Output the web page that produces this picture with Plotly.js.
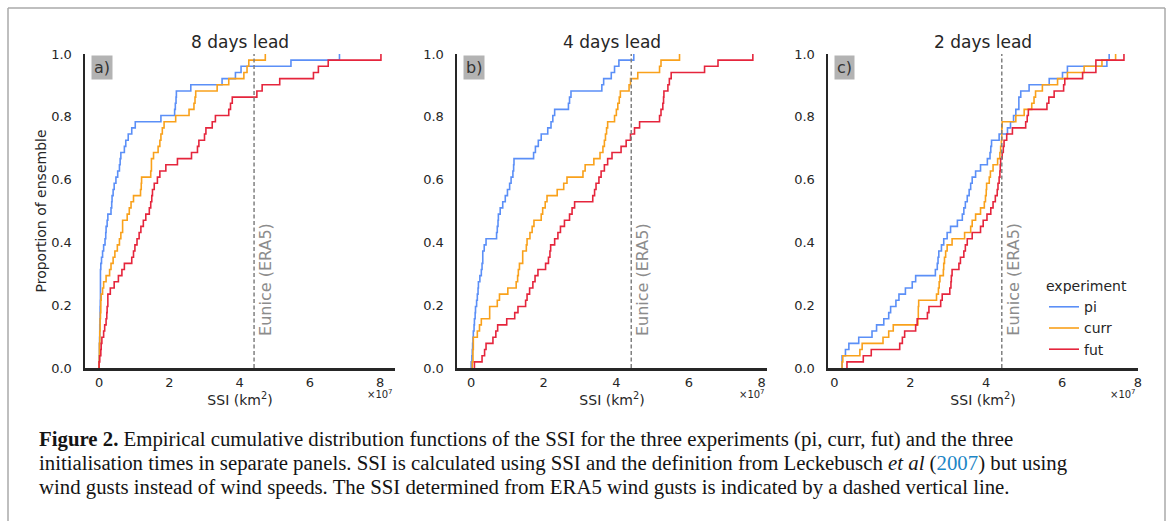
<!DOCTYPE html>
<html>
<head>
<meta charset="utf-8">
<script src="https://cdn.plot.ly/plotly-3.0.1.min.js"></script>
<style>html,body{margin:0;padding:0;background:#fff;}#chart{width:1168px;height:521px;}</style>
</head>
<body>
<div id="chart"></div>
<script>
// SSI values of each ensemble member, in units of 1e7 km^2
const experiments = ['pi', 'curr', 'fut'];
const panelTitles = ['8 days lead', '4 days lead', '2 days lead'];
const panelLabels = ['a)', 'b)', 'c)'];
const xTickVals = [0, 2, 4, 6, 8];
const xTickLabels = ['0', '2', '4', '6', '8'];
const euniceSSI = 4.41;

const ssiPi8 = [0.00,0.005,0.01,0.01,0.015,0.02,0.02,0.025,0.03,0.03,0.035,0.04,0.04,0.04,0.04,0.04,
  0.05,0.07,0.10,0.13,0.17,0.19,0.20,0.23,0.25,0.34,0.36,0.37,0.40,0.43,0.48,0.53,0.58,0.60,0.62,
  0.72,0.76,0.83,0.93,1.03,1.76,2.15,2.17,2.19,2.20,2.61,3.50,3.88,4.04,5.46,6.84];
const ssiCurr8 = [0.00,0.005,0.01,0.01,0.02,0.02,0.03,0.03,0.04,0.05,0.05,0.06,0.10,0.13,0.20,0.30,0.34,
  0.40,0.45,0.52,0.58,0.62,0.67,0.67,0.80,0.86,0.91,0.98,1.18,1.20,1.21,1.47,1.49,1.49,1.55,1.68,
  1.73,1.76,1.80,1.85,2.18,2.56,2.70,2.73,2.75,3.36,3.69,4.12,4.21,4.26,4.73];
const ssiFut8 = [0.00,0.02,0.05,0.06,0.08,0.13,0.16,0.20,0.22,0.23,0.25,0.25,0.32,0.43,0.55,0.65,0.72,
  0.93,0.98,1.02,1.08,1.14,1.19,1.26,1.33,1.43,1.47,1.50,1.52,1.57,1.66,1.73,1.90,2.23,2.63,2.80,
  2.84,3.00,3.04,3.22,3.31,3.69,3.74,3.79,4.49,4.64,5.14,6.10,6.24,6.52,8.02];

const ssiPi4 = [0.00,0.02,0.03,0.04,0.05,0.06,0.08,0.09,0.11,0.12,0.15,0.17,0.19,0.20,0.24,0.28,0.30,
  0.32,0.32,0.36,0.41,0.70,0.72,0.74,0.75,0.80,0.87,0.94,1.00,1.06,1.10,1.15,1.17,1.18,1.72,1.77,
  1.85,1.93,2.11,2.20,2.25,2.30,2.68,2.71,2.75,3.60,3.65,3.86,3.95,4.07,4.48];
const ssiCurr4 = [0.03,0.05,0.05,0.06,0.06,0.17,0.23,0.28,0.51,0.51,0.72,0.78,1.01,1.24,1.28,1.30,1.33,
  1.42,1.42,1.52,1.54,1.62,1.68,1.73,1.93,1.97,2.04,2.09,2.37,2.55,2.64,3.08,3.14,3.38,3.55,3.63,
  3.67,3.70,3.73,3.76,3.95,4.00,4.04,4.08,4.11,4.35,4.39,4.59,5.19,5.23,5.74];
const ssiFut4 = [0.09,0.30,0.37,0.41,0.60,0.68,0.73,0.98,1.20,1.29,1.50,1.54,1.61,1.70,1.76,1.84,2.05,
  2.13,2.17,2.19,2.30,2.39,2.46,2.57,2.71,2.78,2.85,3.35,3.40,3.44,3.52,3.58,3.67,3.76,3.88,4.13,
  4.27,4.39,4.50,4.64,5.19,5.23,5.28,5.30,5.31,5.42,5.46,5.51,6.43,6.80,7.76];

const ssiPi2 = [0.20,0.20,0.29,0.38,0.64,0.99,1.11,1.30,1.43,1.48,1.62,1.70,1.87,2.05,2.14,2.66,2.71,
  2.73,2.75,2.82,2.88,2.97,3.06,3.24,3.37,3.41,3.45,3.50,3.55,3.59,3.63,3.72,3.85,4.03,4.10,4.12,
  4.14,4.34,4.56,4.64,4.72,4.78,4.86,4.86,4.91,5.13,5.66,6.01,6.14,7.18,7.24];
const ssiCurr2 = [0.20,0.22,0.67,0.73,1.28,1.43,1.55,2.20,2.21,2.21,2.22,2.69,2.74,2.76,2.78,2.87,2.88,
  2.90,2.93,2.97,3.10,3.43,3.59,3.63,3.72,3.85,3.95,3.98,4.00,4.01,4.08,4.11,4.18,4.30,4.36,4.38,
  4.40,4.41,4.41,4.42,4.78,5.00,5.20,5.26,5.30,5.48,5.88,6.14,6.58,7.05,7.41];
const ssiFut2 = [0.33,0.76,0.97,1.72,1.79,1.85,2.14,2.18,2.45,2.49,2.80,2.84,3.04,3.07,3.08,3.10,3.28,
  3.32,3.41,3.45,3.50,3.63,3.85,3.92,4.02,4.12,4.18,4.24,4.29,4.31,4.34,4.36,4.37,4.38,4.42,4.45,
  4.47,4.54,4.69,5.04,5.08,5.11,5.60,5.65,5.79,6.04,6.07,6.54,6.89,6.89,7.63];

const panels = [
  [ssiPi8, ssiCurr8, ssiFut8],
  [ssiPi4, ssiCurr4, ssiFut4],
  [ssiPi2, ssiCurr2, ssiFut2]
];
const colors = {pi: '#5b8ff7', curr: '#f9a11b', fut: '#e5253c'};

function ecdf(vals) {
  const s = vals.slice().sort((a, b) => a - b);
  const n = s.length;
  const xs = [s[0]], ys = [0];
  s.forEach((v, i) => { xs.push(v); ys.push((i + 1) / n); });
  return {xs, ys};
}

const W = 1168, H = 521;
const px = v => v / W;
const py = v => 1 - v / H;
const xDomains = [[85, 395], [457, 767], [828, 1138]];
const xRanges = [[-0.40, 8.42], [-0.39, 8.15], [-0.17, 8.00]];
const yDom = [py(368), py(54)];

const traces = [];
panels.forEach((series, p) => {
  series.forEach((vals, e) => {
    const d = ecdf(vals);
    traces.push({
      x: d.xs, y: d.ys, type: 'scatter', mode: 'lines',
      line: {shape: 'hv', color: colors[experiments[e]], width: 1.6},
      name: experiments[e], legendgroup: experiments[e],
      showlegend: p === 2,
      xaxis: p === 0 ? 'x' : 'x' + (p + 1),
      yaxis: p === 0 ? 'y' : 'y' + (p + 1),
      hoverinfo: 'x+y'
    });
  });
});

const ink = '#262626';
const layout = {
  width: W, height: H,
  margin: {l: 0, r: 0, t: 0, b: 0},
  paper_bgcolor: '#ffffff', plot_bgcolor: '#ffffff',
  font: {family: 'DejaVu Sans', color: ink, size: 13},
  showlegend: true,
  legend: {
    x: px(1044), y: py(273), xanchor: 'left', yanchor: 'top',
    bgcolor: 'rgba(0,0,0,0)', font: {size: 14, color: ink},
    title: {text: 'experiment', font: {size: 14, color: ink}},
    itemwidth: 30, tracegroupgap: 0
  },
  annotations: [], shapes: []
};

for (let p = 0; p < 3; p++) {
  const xa = p === 0 ? 'xaxis' : 'xaxis' + (p + 1);
  const ya = p === 0 ? 'yaxis' : 'yaxis' + (p + 1);
  const xr = p === 0 ? 'x' : 'x' + (p + 1);
  const yr = p === 0 ? 'y' : 'y' + (p + 1);
  layout[xa] = {
    domain: [px(xDomains[p][0]), px(xDomains[p][1])], anchor: yr,
    range: xRanges[p], tickvals: xTickVals, ticktext: xTickLabels,
    showline: true, linecolor: ink, linewidth: 2.5, ticks: '', showgrid: false, zeroline: false,
    tickfont: {size: 13, color: ink}, ticklabelstandoff: 1,
    title: {text: 'SSI (km<sup>2</sup>)', font: {size: 14, color: ink}, standoff: 4}
  };
  layout[ya] = {
    domain: yDom, anchor: xr, range: [0, 1], dtick: 0.2, tick0: 0, tickformat: '.1f',
    showline: true, linecolor: ink, linewidth: 2.5, ticks: '', showgrid: false, zeroline: false,
    tickfont: {size: 13, color: ink}, ticklabelstandoff: 8,
    title: p === 0 ? {text: 'Proportion of ensemble', font: {size: 14, color: ink}, standoff: 2} : {text: ''}
  };
  // panel title
  layout.annotations.push({
    text: panelTitles[p], xref: xr + ' domain', x: 0.5, yref: 'paper', y: py(42),
    xanchor: 'center', yanchor: 'middle', showarrow: false, font: {size: 17, color: ink}
  });
  // panel letter
  layout.annotations.push({
    text: panelLabels[p], xref: xr + ' domain', x: 0.019, yref: yr + ' domain', y: 0.997,
    xanchor: 'left', yanchor: 'top', showarrow: false, bgcolor: '#b3b3b3', borderpad: 2,
    font: {size: 16, color: '#333333'}
  });
  // offset label
  layout.annotations.push({
    text: '×10<sup>7</sup>', xref: xr + ' domain', x: 1, yref: 'paper', y: py(394),
    xanchor: 'right', yanchor: 'middle', showarrow: false, font: {size: 10, color: ink}
  });
  // Eunice line + label
  layout.shapes.push({
    type: 'line', xref: xr, x0: euniceSSI, x1: euniceSSI, yref: yr + ' domain', y0: 0, y1: 1,
    line: {color: '#808080', width: 1.5, dash: '4px,2.5px'}
  });
  layout.annotations.push({
    text: 'Eunice (ERA5)', xref: xr, x: euniceSSI, yref: yr + ' domain', y: 0.096,
    xanchor: 'left', yanchor: 'bottom', textangle: -90, xshift: 0, showarrow: false,
    font: {size: 16, color: '#8c8c8c'}
  });
}

// outer frame
const frame = '#aaaaaa';
layout.shapes.push(
  {type: 'line', xref: 'paper', yref: 'paper', x0: px(8), x1: px(1165), y0: py(8), y1: py(8), line: {color: frame, width: 1.5}},
  {type: 'line', xref: 'paper', yref: 'paper', x0: px(8), x1: px(8), y0: py(8), y1: 0, line: {color: frame, width: 1.5}},
  {type: 'line', xref: 'paper', yref: 'paper', x0: px(1165), x1: px(1165), y0: py(8), y1: 0, line: {color: frame, width: 1.5}}
);

// caption
const captionLines = [
  '<b>Figure 2.</b> Empirical cumulative distribution functions of the SSI for the three experiments (pi, curr, fut) and the three',
  'initialisation times in separate panels. SSI is calculated using SSI and the definition from Leckebusch <i>et al</i> (<span style="color:#1d86c6">2007</span>) but using',
  'wind gusts instead of wind speeds. The SSI determined from ERA5 wind gusts is indicated by a dashed vertical line.'
];
const captionY = [439, 463, 487];
captionLines.forEach((t, i) => {
  layout.annotations.push({
    text: t, xref: 'paper', x: px(37), yref: 'paper', y: py(captionY[i]),
    xanchor: 'left', yanchor: 'middle', showarrow: false, align: 'left',
    font: {family: 'Liberation Serif', size: 20.8, color: '#141414'}
  });
});

Plotly.newPlot('chart', traces, layout, {displayModeBar: false, staticPlot: true});
</script>
</body>
</html>
